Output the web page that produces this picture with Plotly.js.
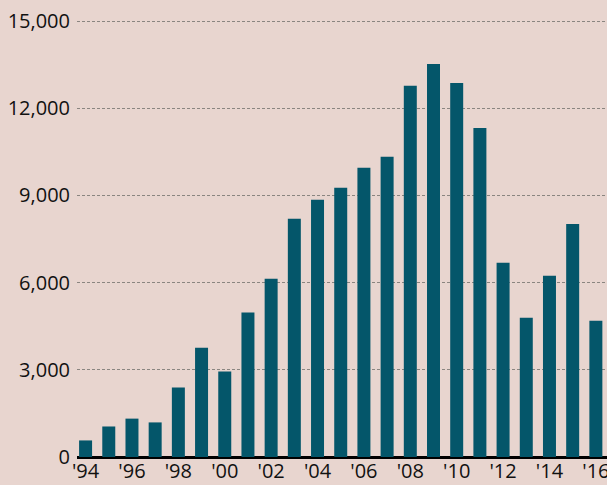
<!DOCTYPE html>
<html>
<head>
<meta charset="utf-8">
<script src="https://cdn.plot.ly/plotly-3.0.1.min.js"></script>
<style>html,body{margin:0;padding:0;background:#e8d5cf;}#chart{width:607px;height:485px;}</style>
</head>
<body>
<div id="chart"></div>
<script>
const years = [1994,1995,1996,1997,1998,1999,2000,2001,2002,2003,2004,2005,2006,2007,2008,2009,2010,2011,2012,2013,2014,2015,2016];
const values = [570,1050,1320,1190,2390,3760,2940,4970,6130,8200,8850,9260,9950,10330,12770,13520,12870,11320,6680,4790,6240,8020,4690];
const xTickVals = [1994,1996,1998,2000,2002,2004,2006,2008,2010,2012,2014,2016];
const xTickText = ["'94","'96","'98","'00","'02","'04","'06","'08","'10","'12","'14","'16"];
const yTickVals = [0,3000,6000,9000,12000,15000];

const bg = '#e8d5cf';
const font = {family: 'Open Sans, sans-serif', size: 20, color: '#111'};

Plotly.newPlot('chart', [{
  type: 'bar',
  x: years,
  y: values,
  marker: {color: '#04566a'},
  hoverinfo: 'skip'
}], {
  width: 607, height: 485,
  paper_bgcolor: bg, plot_bgcolor: bg,
  margin: {l: 77, r: 0, t: 20, b: 28},
  bargap: 0.44,
  showlegend: false,
  font: font,
  xaxis: {
    range: [1993.63, 2016.48],
    tickvals: xTickVals, ticktext: xTickText,
    showgrid: false, zeroline: false, showline: false,
    ticks: '', ticklabelstandoff: 0, ticklabeloverflow: 'allow',
    tickfont: font, fixedrange: true
  },
  yaxis: {
    range: [0, 15035],
    tickvals: yTickVals, tickformat: ',',
    showgrid: true, gridcolor: '#8a8580', gridwidth: 1, griddash: '3px,2px',
    zeroline: true, zerolinecolor: '#000', zerolinewidth: 3,
    showline: false, ticks: '', ticklabelstandoff: 6,
    tickfont: font, fixedrange: true
  }
}, {displayModeBar: false, staticPlot: true});
</script>
</body>
</html>
